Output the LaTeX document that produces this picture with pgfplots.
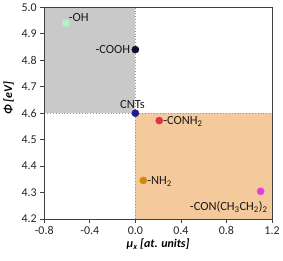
\documentclass[border=0pt]{standalone}
\usepackage{pgfplots}
\pgfplotsset{compat=1.18}
\usepackage{fontspec}
\setmainfont{Carlito}
\definecolor{grayreg}{HTML}{C9C9C9}
\definecolor{orareg}{HTML}{F4C99B}
\definecolor{dotc}{HTML}{8A97AE}
\definecolor{cOH}{HTML}{B2F2C4}
\definecolor{cCOOH}{HTML}{0E0E2E}
\definecolor{cCNT}{HTML}{1C1C8E}
\definecolor{cCONH}{HTML}{E0304A}
\definecolor{cNH}{HTML}{D4870F}
\definecolor{cCON}{HTML}{E040E0}
\begin{document}
\begin{tikzpicture}
\begin{axis}[
  scale only axis,
  width=229pt, height=213pt,
  xmin=-0.8, xmax=1.2, ymin=4.2, ymax=5.0,
  xtick={-0.8,-0.4,0,0.4,0.8,1.2},
  ytick={4.2,4.3,4.4,4.5,4.6,4.7,4.8,4.9,5.0},
  xticklabel style={/pgf/number format/.cd,fixed,fixed zerofill,precision=1},
  yticklabel style={/pgf/number format/.cd,fixed,fixed zerofill,precision=1},
  /pgf/number format/assume math mode=true,
  tick label style={font=\fontsize{12}{14}\selectfont, text=black!85},
  tick align=outside,
  major tick length=4pt,
  xtick pos=bottom, ytick pos=left,
  axis line style={draw=black!75, line width=0.9pt},
  every tick/.style={draw=black!75, line width=0.8pt},
  xlabel={\textbf{\textit{μ\textsubscript{x} [at. units]}}},
  ylabel={\textbf{\textit{Φ [eV]}}},
  label style={font=\fontsize{12}{14}\selectfont},
  xlabel style={yshift=3pt},
  ylabel style={at={(ticklabel cs:0.57)}, anchor=south, yshift=1pt},
  clip=false,
  axis on top,
]
\fill[grayreg] (axis cs:-0.8,4.6) rectangle (axis cs:0,5.0);
\fill[orareg] (axis cs:0,4.2) rectangle (axis cs:1.2,4.6);
\draw[dotc, dotted, line width=0.9pt] (axis cs:0,4.2) -- (axis cs:0,5.0);
\draw[dotc, dotted, line width=0.9pt] (axis cs:-0.8,4.6) -- (axis cs:1.2,4.6);

\addplot[only marks, mark=*, mark size=3.6pt, color=cOH] coordinates {(-0.61,4.94)};
\addplot[only marks, mark=*, mark size=3.6pt, color=cCOOH] coordinates {(0.0,4.84)};
\addplot[only marks, mark=*, mark size=3.6pt, color=cCNT] coordinates {(0.0,4.60)};
\addplot[only marks, mark=*, mark size=3.6pt, color=cCONH] coordinates {(0.21,4.572)};
\addplot[only marks, mark=*, mark size=3.6pt, color=cNH] coordinates {(0.07,4.346)};
\addplot[only marks, mark=*, mark size=3.6pt, color=cCON] coordinates {(1.1,4.305)};

\begin{scope}[every node/.style={font=\fontsize{12.5}{14}\selectfont, text=black!90, inner sep=1pt}]
\node[anchor=west] at (axis cs:-0.595,4.963) {-OH};
\node[anchor=east] at (axis cs:-0.035,4.84) {-COOH};
\node[anchor=south] at (axis cs:-0.025,4.613) {CNTs};
\node[anchor=west] at (axis cs:0.235,4.569) {-CONH\textsubscript{2}};
\node[anchor=west] at (axis cs:0.095,4.343) {-NH\textsubscript{2}};
\node[anchor=center] at (axis cs:0.82,4.245) {-CON(CH\textsubscript{3}CH\textsubscript{2})\textsubscript{2}};
\end{scope}
\end{axis}
\path ([xshift=-43pt,yshift=-42pt]current axis.south west) rectangle ([xshift=11pt,yshift=6pt]current axis.north east);
\end{tikzpicture}
\end{document}
